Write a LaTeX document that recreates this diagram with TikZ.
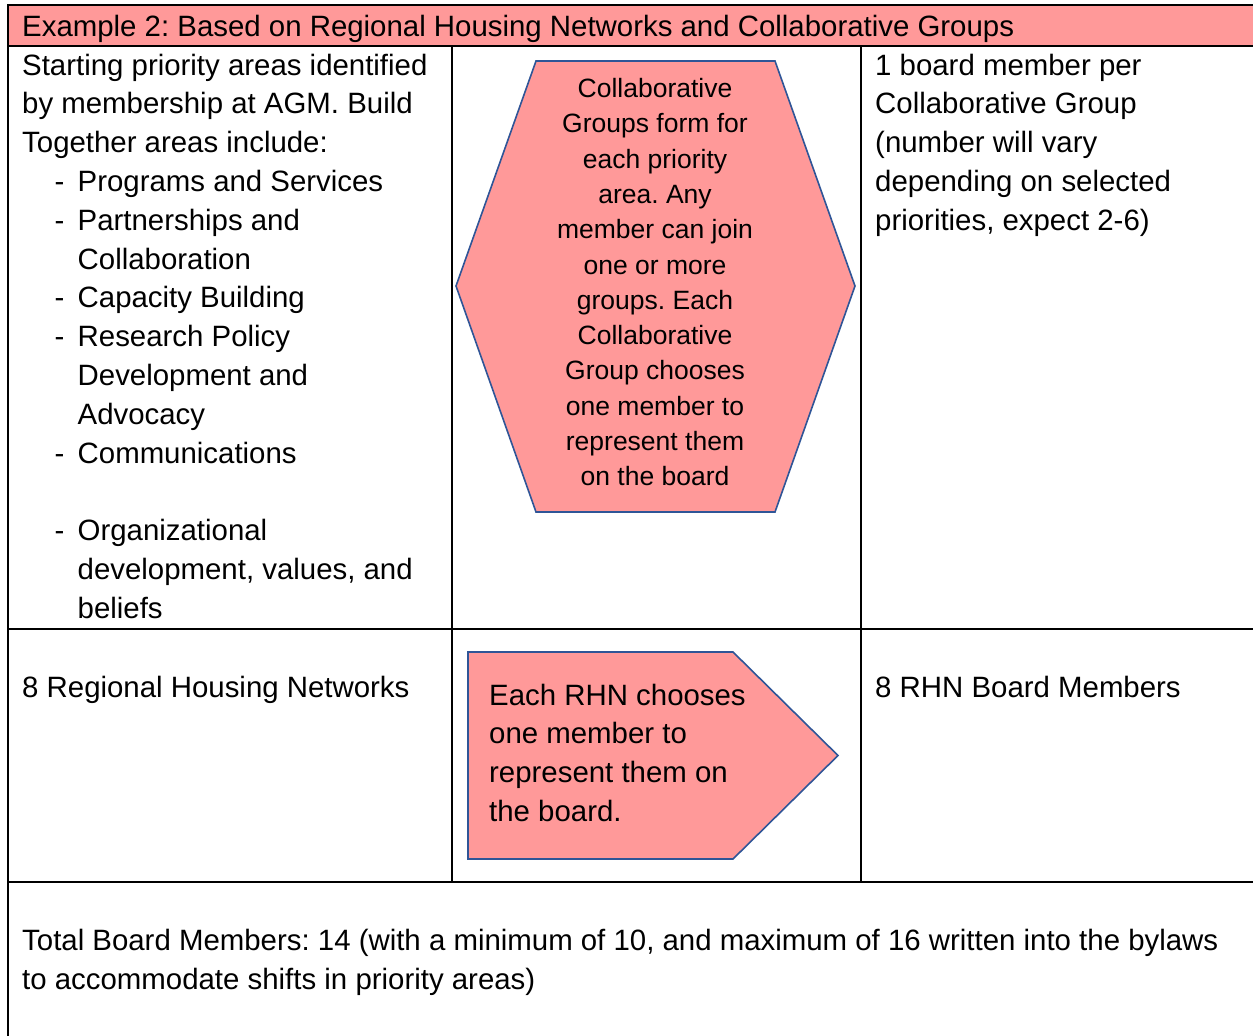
\documentclass[tikz,border=0pt]{standalone}
\usepackage{fontspec}
\setmainfont{Liberation Sans}
\frenchspacing
\definecolor{boxpink}{HTML}{FF9999}
\definecolor{edgeblue}{HTML}{2F5597}
% list helpers: a dashed item and its continuation line
\newcommand\listitem[1]{\hspace*{32.5pt}\makebox[23pt][l]{-}#1}
\newcommand\listcont[1]{\hspace*{55.5pt}#1}
\begin{document}
\begin{tikzpicture}[x=1pt,y=-1pt,
  grid/.style={line width=2pt, line cap=rect},
  shapebox/.style={fill=boxpink, draw=edgeblue, line width=1.6pt, line join=miter},
  body/.style={inner sep=0pt, anchor=base west, font=\fontsize{29.4}{38.8}\selectfont},
  small/.style={inner sep=0pt, anchor=base, font=\fontsize{26.5}{35.3}\selectfont}]
\useasboundingbox (0,0) rectangle (1253,1036);

% header band
\fill[boxpink] (8,5) rectangle (1253,46);

% table rules
\draw[grid] (8,5) -- (1253,5);
\draw[grid] (8,5) -- (8,1036);
\draw[grid] (8,46) -- (1253,46);
\draw[grid] (8,629) -- (1253,629);
\draw[grid] (8,882) -- (1253,882);
\draw[grid] (452,46) -- (452,882);
\draw[grid] (861,46) -- (861,882);

\node[body] (title) at (22,36) {Example 2: Based on Regional Housing Networks and Collaborative Groups};

% first row, left cell
\foreach \k/\t in {
  0/{Starting priority areas identified},
  1/{by membership at AGM. Build},
  2/{Together areas include:},
  3/{\listitem{Programs and Services}},
  4/{\listitem{Partnerships and}},
  5/{\listcont{Collaboration}},
  6/{\listitem{Capacity Building}},
  7/{\listitem{Research Policy}},
  8/{\listcont{Development and}},
  9/{\listcont{Advocacy}},
  10/{\listitem{Communications}},
  12/{\listitem{Organizational}},
  13/{\listcont{development, values, and}},
  14/{\listcont{beliefs}}}
  \node[body] (left\k) at (22,{75+38.8*\k}) {\t};

% first row, right cell
\foreach \k/\t in {
  0/{1 board member per},
  1/{Collaborative Group},
  2/{(number will vary},
  3/{depending on selected},
  4/{priorities, expect 2-6)}}
  \node[body] (right\k) at (875,{75+38.8*\k}) {\t};

% hexagon
\coordinate (hA) at (536,61);
\coordinate (hB) at (775,61);
\coordinate (hC) at (855,286);
\coordinate (hD) at (775,512);
\coordinate (hE) at (536,512);
\coordinate (hF) at (456,286);
\draw[shapebox] (hA) -- (hB) -- (hC) -- (hD) -- (hE) -- (hF) -- cycle;
\foreach \k/\t in {
  0/{Collaborative},
  1/{Groups form for},
  2/{each priority},
  3/{area. Any},
  4/{member can join},
  5/{one or more},
  6/{groups. Each},
  7/{Collaborative},
  8/{Group chooses},
  9/{one member to},
  10/{represent them},
  11/{on the board}}
  \node[small] (hex\k) at (655,{97.5+35.3*\k}) {\t};

% second row
\node[body] (rhn) at (22,697) {8 Regional Housing Networks};
\node[body] (rhnboard) at (875,697) {8 RHN Board Members};

% pentagon arrow
\coordinate (pA) at (468,652);
\coordinate (pB) at (733,652);
\coordinate (pC) at (838,755.5);
\coordinate (pD) at (733,859);
\coordinate (pE) at (468,859);
\draw[shapebox] (pA) -- (pB) -- (pC) -- (pD) -- (pE) -- cycle;
\foreach \k/\t in {
  0/{Each RHN chooses},
  1/{one member to},
  2/{represent them on},
  3/{the board.}}
  \node[body] (pent\k) at (489,{705+38.8*\k}) {\t};

% total row
\node[body] (total1) at (22,950) {Total Board Members: 14 (with a minimum of 10, and maximum of 16 written into the bylaws};
\node[body] (total2) at (22,989) {to accommodate shifts in priority areas)};
\end{tikzpicture}
\end{document}
